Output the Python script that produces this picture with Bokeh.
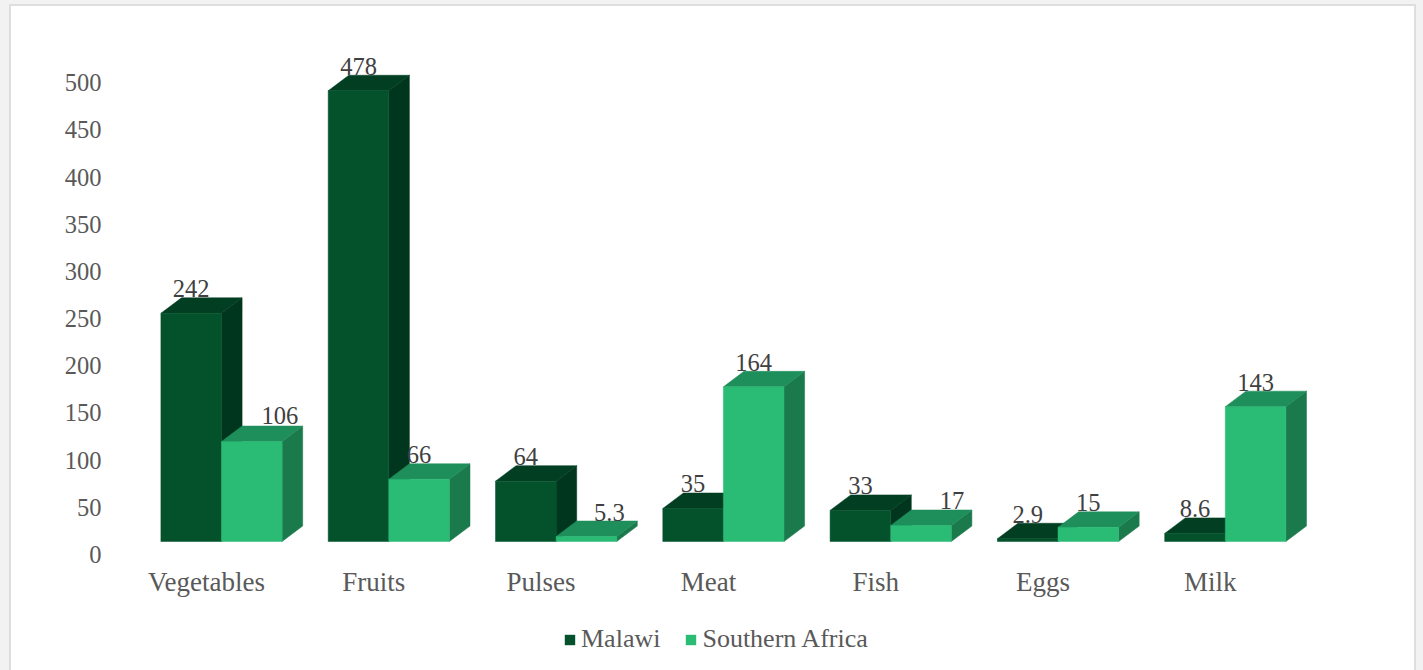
from bokeh.embed import file_html
from bokeh.layouts import column
from bokeh.resources import INLINE
from bokeh.plotting import figure
from bokeh.models import (ColumnDataSource, FixedTicker, Legend, LegendItem,
                          LinearAxis, Range1d)
from bokeh.core.properties import value

categories = ["Vegetables", "Fruits", "Pulses", "Meat", "Fish", "Eggs", "Milk"]
series_names = ["Malawi", "Southern Africa"]
malawi = [242, 478, 64, 35, 33, 2.9, 8.6]
southern_africa = [106, 66, 5.3, 164, 17, 15, 143]
malawi_labels = ["242", "478", "64", "35", "33", "2.9", "8.6"]
southern_africa_labels = ["106", "66", "5.3", "164", "17", "15", "143"]
y_ticks = [0, 50, 100, 150, 200, 250, 300, 350, 400, 450, 500]

# Label nudges (screen px) for values that sit clear of the taller neighbour
malawi_nudge = [0, 0, 0, 0, 0, 0, 0]
southern_africa_nudge = [28, 0, 23, 0, 31, 0, 0]
malawi_lift = [-9, -9, -9, -9, -9, -9, -9]
southern_africa_lift = [-11, -9, -9, -9, -9, -9, -9]

PAGE_W, PAGE_H = 1423, 670
CARD_X, CARD_Y = 11, 6                          # white card's corner on the page
W = 1403                                        # card width
SPLIT = 600                                     # page row where the legend strip starts
LEFT, RIGHT, TOP, BOTTOM = 108, 1324, 40, 557   # plot frame in page pixels
X0, STEP = 221.0, 167.3                         # first group's centre, group spacing
Y0, UNIT = 541.0, 0.943                         # baseline row, pixels per unit
BAR = 60.6 / STEP                               # bar width in category units
DX, DY = 20.6 / STEP, 15.5 / UNIT               # oblique depth of the 3-D boxes
FONT = "Liberation Serif"

x_range = Range1d((LEFT - X0) / STEP, (RIGHT - X0) / STEP)
y_range = Range1d((Y0 - BOTTOM) / UNIT, (Y0 - TOP) / UNIT)

p = figure(width=W, height=SPLIT - CARD_Y, x_range=x_range, y_range=y_range,
           output_backend="svg", toolbar_location=None,
           x_axis_location=None, y_axis_location=None,
           min_border_left=LEFT - CARD_X, min_border_right=CARD_X + W - RIGHT,
           min_border_top=TOP - CARD_Y, min_border_bottom=SPLIT - BOTTOM, margin=0)
p.grid.visible = False
p.outline_line_color = None
p.background_fill_color = "#ffffff"
p.border_fill_color = "#ffffff"

# Axis labels sit lower and further left than the box fronts, on their own ranges
p.extra_y_ranges["ticks"] = Range1d((Y0 + 12.8 - BOTTOM) / UNIT, (Y0 + 12.8 - TOP) / UNIT)
p.extra_x_ranges["cats"] = Range1d((LEFT - X0 + 15) / STEP, (RIGHT - X0 + 15) / STEP)

y_axis = LinearAxis(y_range_name="ticks", ticker=FixedTicker(ticks=y_ticks))
x_axis = LinearAxis(x_range_name="cats", ticker=FixedTicker(ticks=list(range(len(categories)))),
                    major_label_overrides={i: c for i, c in enumerate(categories)})
for axis in (x_axis, y_axis):
    axis.axis_line_color = None
    axis.major_tick_line_color = None
    axis.minor_tick_line_color = None
    axis.major_label_text_font = FONT
    axis.major_label_text_color = "#595959"
y_axis.major_label_text_font_size = "24.5px"
y_axis.major_label_standoff = 1
x_axis.major_label_text_font_size = "27px"
x_axis.major_label_standoff = 3
p.add_layout(y_axis, "left")
p.add_layout(x_axis, "below")


def boxes(values, offset, front, top, side):
    """Draw one series as oblique boxes: side face, top face, then front."""
    lefts = [i + offset for i in range(len(values))]
    rights = [x + BAR for x in lefts]
    p.patches([[r, r + DX, r + DX, r] for r in rights],
              [[0, DY, v + DY, v] for v in values],
              fill_color=side, line_color=side, line_width=0.5)
    p.patches([[l, r, r + DX, l + DX] for l, r in zip(lefts, rights)],
              [[v, v, v + DY, v + DY] for v in values],
              fill_color=top, line_color=top, line_width=0.5)
    p.vbar(x=[(l + r) / 2 for l, r in zip(lefts, rights)], top=values, bottom=0,
           width=BAR, fill_color=front, line_color=front, line_width=0.5)


def value_labels(values, labels, offset, nudge, lift):
    source = ColumnDataSource(dict(
        x=[i + offset + BAR / 2 for i in range(len(values))],
        y=[v + DY for v in values],
        text=labels, nudge=nudge, lift=lift))
    p.text(x="x", y="y", text="text", x_offset="nudge", y_offset="lift", source=source,
           text_font=value(FONT), text_font_size="24.5px", text_color="#404040",
           text_align="center", text_baseline="middle")


boxes(malawi, -BAR, "#03522b", "#023f22", "#00361e")
boxes(southern_africa, 0, "#2abb74", "#1e8e5a", "#1b7a4c")
value_labels(malawi, malawi_labels, -BAR, malawi_nudge, malawi_lift)
value_labels(southern_africa, southern_africa_labels, 0, southern_africa_nudge, southern_africa_lift)

# The legend gets a strip of its own beneath the plot; its key squares lie outside the view
strip = figure(width=W, height=PAGE_H - SPLIT, x_range=(0, 1), y_range=(0, 1),
               output_backend="svg", toolbar_location=None,
               x_axis_location=None, y_axis_location=None,
               min_border=0, margin=0)
strip.grid.visible = False
strip.outline_line_color = None
strip.background_fill_color = "#ffffff"
strip.border_fill_color = "#ffffff"
key_dark = strip.quad(left=[5], right=[6], bottom=[5], top=[6], fill_color="#03522b", line_color=None)
key_light = strip.quad(left=[5], right=[6], bottom=[5], top=[6], fill_color="#2abb74", line_color=None)
legend = Legend(items=[LegendItem(label=series_names[0], renderers=[key_dark]),
                       LegendItem(label=series_names[1], renderers=[key_light])],
                orientation="horizontal", location=(564 - CARD_X - 98, 16),
                background_fill_alpha=0, border_line_color=None,
                glyph_width=13, glyph_height=13, spacing=24, label_standoff=5,
                padding=0, margin=0,
                label_text_font=FONT, label_text_font_size="26px",
                label_text_color="#595959")
strip.add_layout(legend, "center")

card = column(p, strip, spacing=0, margin=(CARD_Y, 0, 0, CARD_X),
              styles={"outline": "2px solid #dedede", "background-color": "#ffffff"})
page = column(card, width=PAGE_W, height=PAGE_H, styles={"background-color": "#f2f2f2"})
open("out.html", "w").write(file_html(page, INLINE))
